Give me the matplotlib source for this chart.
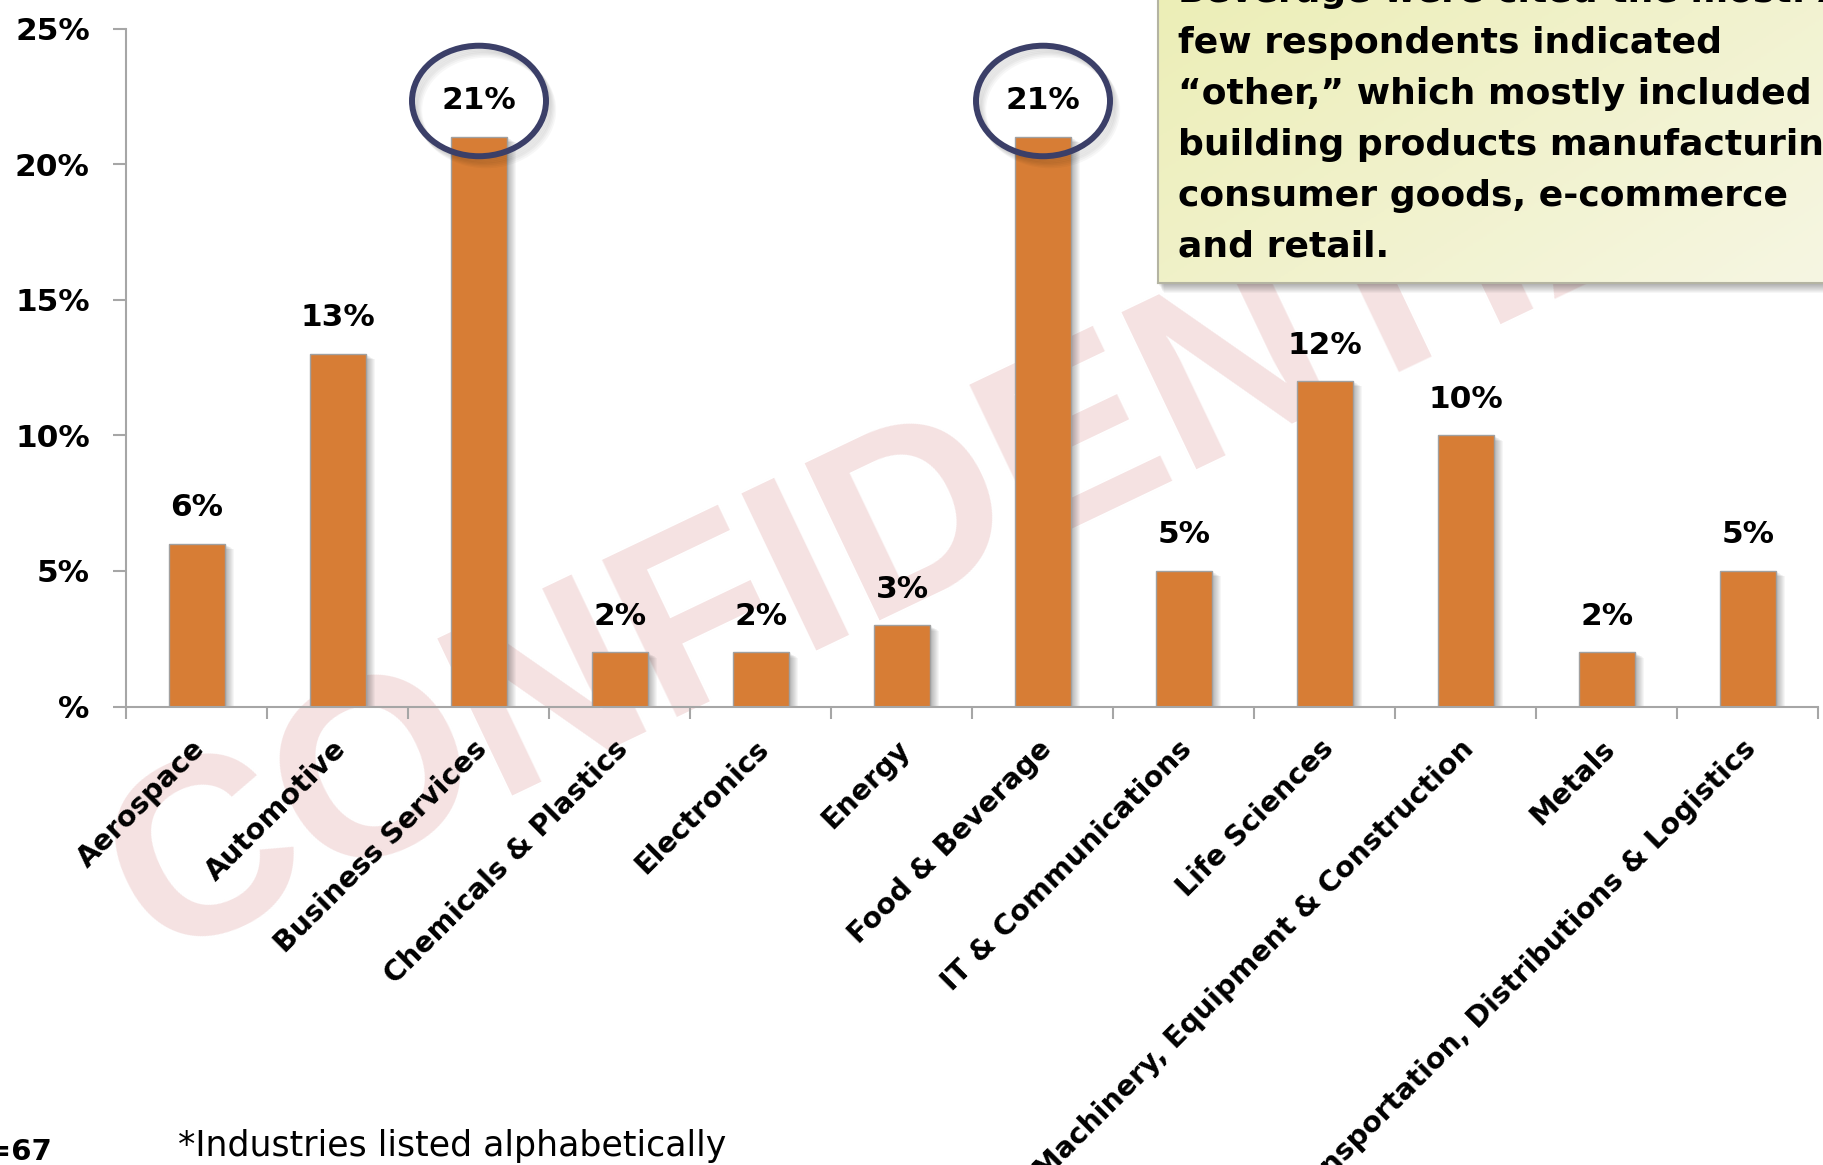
import matplotlib.pyplot as plt
import numpy as np
from matplotlib.patches import Ellipse, Rectangle
from matplotlib.transforms import ScaledTranslation
from matplotlib.colors import LinearSegmentedColormap

industries = ['Aerospace', 'Automotive', 'Business Services', 'Chemicals & Plastics',
              'Electronics', 'Energy', 'Food & Beverage', 'IT & Communications',
              'Life Sciences', 'Machinery, Equipment & Construction', 'Metals',
              'Transportation, Distributions & Logistics']
shares = [6, 13, 21, 2, 2, 3, 21, 5, 12, 10, 2, 5]
circled = ['Business Services', 'Food & Beverage']

y_ticks = [0, 5, 10, 15, 20, 25]
y_tick_labels = ['%', '5%', '10%', '15%', '20%', '25%']

note_lines = ['Beverage were cited the most. A',
              'few respondents indicated',
              '\u201cother,\u201d which mostly included',
              'building products manufacturing,',
              'consumer goods, e-commerce',
              'and retail.']
sample_size = 'n=67'
footnote = '*Industries listed alphabetically'

plt.rcParams['font.family'] = 'DejaVu Sans'

W, H = 1824, 1165
fig = plt.figure(figsize=(W / 100, H / 100), dpi=100)

# plot area in pixels: x 126.5..1818.5, y 28.5..706.5 (from top)
ax = fig.add_axes([126.5 / W, 1 - 706.5 / H, (1818.5 - 126.5) / W, (706.5 - 28.5) / H])
ax.set_xlim(-0.5, len(industries) - 0.5)
ax.set_ylim(0, 25)

px_x = 1 / 141.0      # one pixel in category units
px_y = 25 / 678.0     # one pixel in percent units

orange = '#d77d35'
grey = '#a6a6a6'
x = np.arange(len(industries))
width = 0.40

# faint watermark behind everything
ax.text(976 / W, 668 / H, 'CONFIDENTIAL', transform=fig.transFigure,
        rotation=25.5, rotation_mode='anchor', ha='center', va='center',
        fontsize=182, family='Liberation Sans', fontweight='bold',
        color='#f5e2e2', zorder=0.2, clip_on=False)

# soft drop shadow on the bars
for k in range(1, 10):
    ax.bar(x + k * px_x, np.array(shares) - 0.6 * k * px_y, width=width,
           color='black', alpha=0.035, linewidth=0, zorder=1)

ax.bar(x, shares, width=width, color=orange, edgecolor='#a0a0a0',
       linewidth=1, zorder=2)

label_off = 36  # pixels above the bar top
for i, v in enumerate(shares):
    ax.annotate(f'{v}%', (i, v), xytext=(0, label_off), textcoords='offset pixels',
                ha='center', va='center', fontsize=22.5, fontweight='bold', zorder=5)

for name in circled:
    i = industries.index(name)
    cy = shares[i] + label_off * px_y
    for k in range(1, 7):
        ax.add_patch(Ellipse((i + 1.2 * k * px_x, cy - 1.5 * k * px_y),
                             134 * px_x, 110.5 * px_y, fill=False, lw=4.3,
                             ec='black', alpha=0.03, zorder=3, clip_on=False))
    ax.add_patch(Ellipse((i, cy), 134 * px_x, 110.5 * px_y, fill=False,
                         lw=4.3, ec='#3b3f68', zorder=4, clip_on=False))

for side in ['top', 'right']:
    ax.spines[side].set_visible(False)
for side in ['left', 'bottom']:
    ax.spines[side].set_color(grey)
    ax.spines[side].set_linewidth(1.5)

ax.set_yticks(y_ticks)
ax.set_yticklabels(y_tick_labels, fontsize=22.5, fontweight='bold')
ax.tick_params(axis='y', length=9.4, width=1.5, color=grey, pad=17)

ax.set_xticks(x)
ax.set_xticklabels(industries, rotation=45, ha='right', va='center',
                   rotation_mode='anchor', fontsize=20.5, fontweight='bold')
ax.set_xticks(np.arange(-0.5, len(industries), 1), minor=True)
ax.tick_params(axis='x', which='major', length=0, pad=27.5)
ax.tick_params(axis='x', which='minor', length=8.5, width=1.5, color=grey)
shift = ScaledTranslation(4 / 100, 0, fig.dpi_scale_trans)
for lab in ax.get_xticklabels():
    lab.set_transform(lab.get_transform() + shift)

# callout box in the upper right corner
bx0, by0 = 1157.5 / W, 1 - 282.7 / H
bw, bh = 1 - bx0 + 0.01, 1 - by0 + 0.01
for k in range(1, 11):
    fig.add_artist(Rectangle((bx0 + 0.6 * k / W, by0 - k / H), bw, bh,
                             transform=fig.transFigure, color='black',
                             alpha=0.035, linewidth=0, zorder=4))
cax = fig.add_axes([bx0, by0, bw, bh], zorder=5)
gx, gy = np.meshgrid(np.linspace(0, 1, 200), np.linspace(0, 1, 200))
cmap = LinearSegmentedColormap.from_list('note', ['#eceeb6', '#f6f6e3'])
cax.imshow(gx * 0.6 + gy * 0.4, cmap=cmap, extent=[0, 1, 0, 1],
           aspect='auto', origin='upper')
cax.set_xticks([])
cax.set_yticks([])
for side in ['top', 'right']:
    cax.spines[side].set_visible(False)
for side in ['left', 'bottom']:
    cax.spines[side].set_color('#b4b4a2')
    cax.spines[side].set_linewidth(1.5)

for j, line in enumerate(note_lines):
    fig.text(1178 / W, 1 - (-8 + 50.9 * j) / H, line, ha='left', va='center',
             fontsize=26, fontweight='bold', zorder=6)

fig.text(52 / W, 1 - 1152 / H, sample_size, ha='right', va='center',
         fontsize=21, fontweight='bold')
fig.text(178 / W, 1 - 1146 / H, footnote, ha='left', va='center', fontsize=25)

fig.savefig('out.png', dpi=100)
